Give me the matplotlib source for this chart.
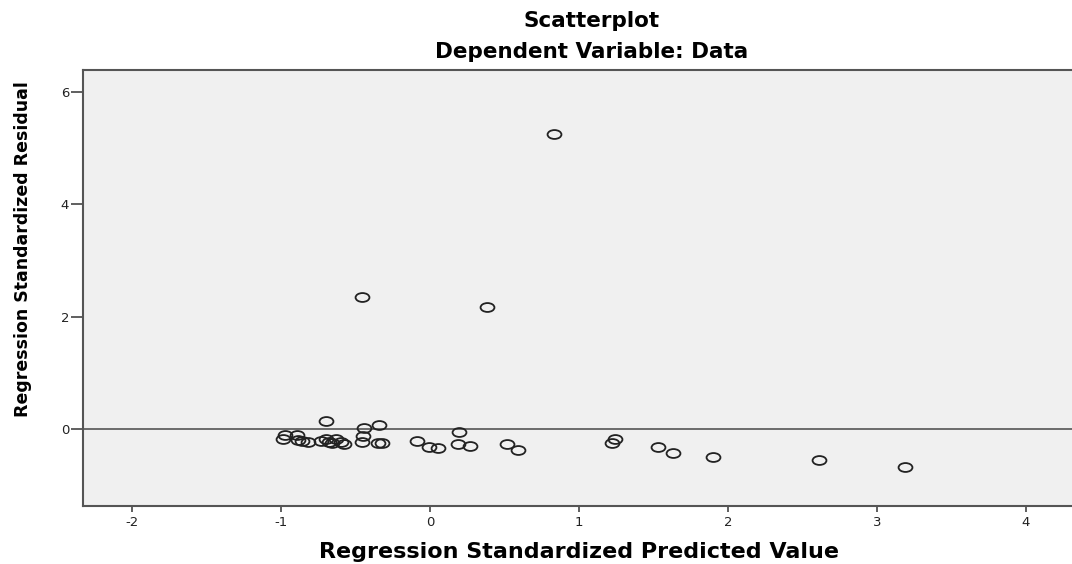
import matplotlib
matplotlib.use("Agg")
import matplotlib.pyplot as plt
from matplotlib.path import Path
import numpy as np

# regression standardized predicted value (x) and residual (y)
pred = [0.83, -0.46, 0.38,
        -0.70, -0.44, -0.34, 0.195,
        -0.985, -0.974, -0.895, -0.884, -0.86, -0.82, -0.73, -0.70,
        -0.68, -0.66, -0.63, -0.60, -0.58, -0.46, -0.45, -0.35, -0.32,
        -0.09, -0.01, 0.056, 0.19, 0.27, 0.52, 0.59,
        1.24, 1.22, 1.53, 1.63, 1.90, 2.61, 3.19]
resid = [5.25, 2.36, 2.18,
         0.15, 0.02, 0.08, -0.04,
         -0.18, -0.11, -0.11, -0.19, -0.21, -0.22, -0.21, -0.17,
         -0.23, -0.24, -0.18, -0.22, -0.26, -0.22, -0.12, -0.24, -0.24,
         -0.21, -0.31, -0.33, -0.27, -0.29, -0.26, -0.36,
         -0.17, -0.25, -0.32, -0.43, -0.50, -0.55, -0.67]

x_ticks = [-2, -1, 0, 1, 2, 3, 4]
y_ticks = [0, 2, 4, 6]

title1 = "Scatterplot"
title2 = "Dependent Variable: Data"
x_title = "Regression Standardized Predicted Value"
y_title = "Regression Standardized Residual"

plt.rcParams["axes.unicode_minus"] = False

# flattened circle marker (the SPSS output is stretched sideways)
circ = Path.unit_circle()
ellipse = Path(circ.vertices * np.array([1.0, 0.64]), circ.codes)

fig = plt.figure(figsize=(10.72, 5.64), dpi=100)
ax = fig.add_axes([0.0774, 0.1028, 0.949, 0.773])
ax.set_facecolor("#f0f0f0")

ax.axhline(0, color="#555555", linewidth=1.2, zorder=1)
ax.plot(pred, resid, linestyle="none", marker=ellipse, markersize=10,
        markerfacecolor="none", markeredgecolor="#222222",
        markeredgewidth=1.3, zorder=2)

ax.set_xlim(-2.33, 4.5)
ax.set_ylim(-1.365, 6.39)
ax.set_xticks(x_ticks)
ax.set_yticks(y_ticks)
ax.tick_params(axis="x", length=4, width=1.2, color="#444444", pad=3,
               labelsize=9.5, labelcolor="#222222")
ax.tick_params(axis="y", length=9, width=1.2, color="#444444", pad=1,
               labelsize=9.5, labelcolor="#222222")
for s in ax.spines.values():
    s.set_color("#555555")
    s.set_linewidth(1.5)

fig.text(0.552, 0.952, title1, ha="center", va="baseline",
         fontsize=15.5, fontweight="bold")
fig.text(0.552, 0.897, title2, ha="center", va="baseline",
         fontsize=15.5, fontweight="bold")
fig.text(0.540, 0.0106, x_title, ha="center", va="baseline",
         fontsize=16, fontweight="bold")
fig.text(0.0215, 0.559, y_title, ha="center", va="center", rotation=90,
         fontsize=12.5, fontweight="bold")

fig.savefig("out.png", dpi=100)
